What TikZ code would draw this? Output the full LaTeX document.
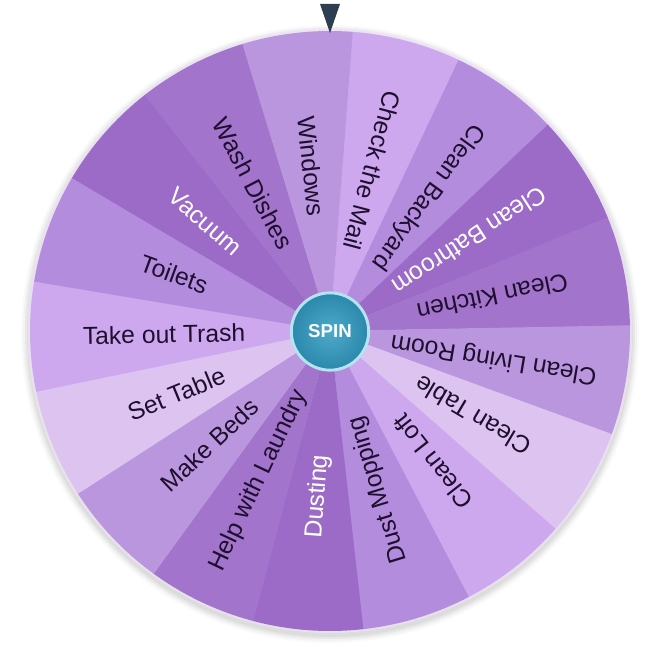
\documentclass[tikz,border=0pt]{standalone}
\usepackage{fontspec}
\setmainfont{Liberation Sans}
\usetikzlibrary{positioning}
\definecolor{wedgeA}{HTML}{CDA8EF}
\definecolor{wedgeB}{HTML}{B48CDD}
\definecolor{wedgeC}{HTML}{9C6BC8}
\definecolor{wedgeD}{HTML}{A274CB}
\definecolor{wedgeE}{HTML}{BA96DE}
\definecolor{wedgeF}{HTML}{DCC3F0}
\definecolor{inkdark}{HTML}{1E0F2E}
\definecolor{pointerblue}{HTML}{2C3E50}
\definecolor{hubring}{HTML}{B5E3EE}
\definecolor{hubmid}{HTML}{4FAAC8}
\definecolor{hubout}{HTML}{2B88AD}
\tikzset{
    slicelabel/.style={font=\fontsize{18.5}{21}\selectfont,inner sep=0pt,anchor=center},
    hub/.style={circle,draw=hubring,line width=2.2pt,inner color=hubmid,outer color=hubout,minimum size=58pt,inner sep=0pt,text=white,font=\fontsize{14}{16}\selectfont\bfseries}
}

\begin{document}
\begin{tikzpicture}[x=0.75pt,y=0.75pt]
    \useasboundingbox (-330,-329) rectangle (330,331);
    % Rim shadow
    \foreach \r/\o in {309/0.10,307/0.18,305/0.28,303/0.40}
        \fill[black!20,opacity=\o] (0,-3) circle[radius=\r];
    \fill[wedgeF!45,opacity=0.6] (0,0.5) circle[radius=302.5];
    % Wheel
    \foreach \i/\col/\ink/\lab in {
        0/wedgeA/inkdark/Check the Mail,
        1/wedgeB/inkdark/Clean Backyard,
        2/wedgeC/white/Clean Bathroom,
        3/wedgeD/inkdark/Clean Kitchen,
        4/wedgeE/inkdark/Clean Living Room,
        5/wedgeF/inkdark/Clean Table,
        6/wedgeA/inkdark/Clean Loft,
        7/wedgeB/inkdark/Dust Mopping,
        8/wedgeC/white/Dusting,
        9/wedgeD/inkdark/Help with Laundry,
        10/wedgeE/inkdark/Make Beds,
        11/wedgeF/inkdark/Set Table,
        12/wedgeA/inkdark/Take out Trash,
        13/wedgeB/inkdark/Toilets,
        14/wedgeC/white/Vacuum,
        15/wedgeD/inkdark/Wash Dishes,
        16/wedgeE/inkdark/Windows}
    {
        \pgfmathsetmacro{\start}{85.8-\i*21.1765}
        \pgfmathsetmacro{\stop}{\start-21.1765-0.15}
        \pgfmathsetmacro{\mid}{\start-10.588}
        \fill[\col] (0,0) -- (\start:300) arc[start angle=\start,end angle=\stop,radius=300] -- cycle;
        \node[slicelabel,text=\ink,rotate=\mid+180] (lab\i) at (\mid:166) {\lab};
    }
    % Pointer and button
    \fill[pointerblue] (-10,327) -- (10,327) -- (0,298) -- cycle;
    \node[hub] (spin) at (0,-0.5) {SPIN};
\end{tikzpicture}
\end{document}
